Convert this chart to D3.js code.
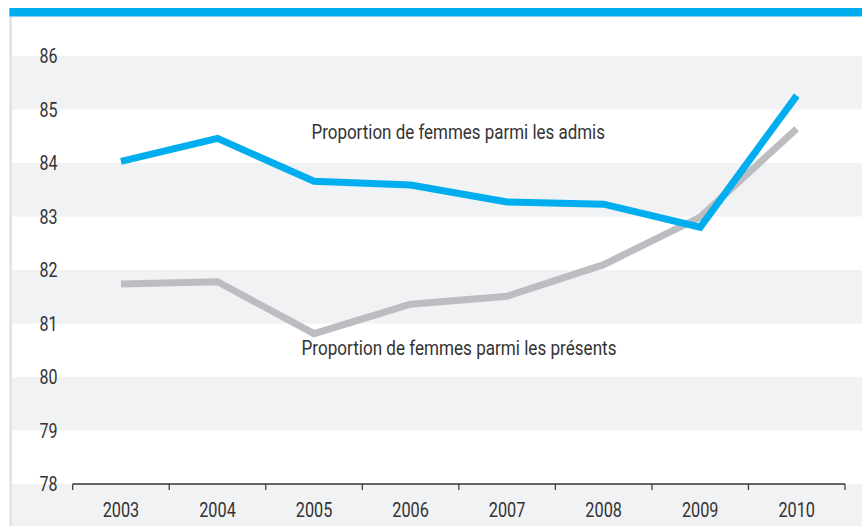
<!DOCTYPE html>
<html>
<head>
<meta charset="utf-8">
<script src="https://cdn.jsdelivr.net/npm/d3@7"></script>
<style>
  body { margin: 0; background: #fff; }
  svg { display: block; }
  text { font-family: Roboto, "DejaVu Sans Condensed", sans-serif; font-weight: 400; fill: #333; }
</style>
</head>
<body>
<svg id="chart" width="862" height="526"></svg>
<script>
// data
const years = ["2003", "2004", "2005", "2006", "2007", "2008", "2009", "2010"];
const admis = [84.03, 84.46, 83.66, 83.59, 83.27, 83.23, 82.80, 85.26];
const presents = [81.74, 81.78, 80.81, 81.36, 81.51, 82.10, 82.99, 84.64];
const yTicks = [78, 79, 80, 81, 82, 83, 84, 85, 86];

const width = 862, height = 526;
const svg = d3.select("#chart");

const x = d3.scaleBand()
  .domain(years)
  .range([72.7, 845]);

const y = d3.scaleLinear()
  .domain([78, 86])
  .range([484, 56]);

// stripes (alternate bands, grey on 85-86, 83-84, ...)
const bands = d3.range(78, 86).map((v) => ({ lo: v, hi: v + 1 }));
svg.selectAll(".band")
  .data(bands.filter((d) => (86 - d.hi) % 2 === 0))
  .enter().append("rect")
  .attr("class", "band")
  .attr("x", 12)
  .attr("width", width - 12)
  .attr("y", (d) => y(d.hi))
  .attr("height", (d) => y(d.lo) - y(d.hi))
  .attr("fill", "#f1f2f4");

// band below the axis
svg.append("rect")
  .attr("x", 12)
  .attr("width", width - 12)
  .attr("y", y(78))
  .attr("height", height - y(78))
  .attr("fill", "#f1f2f4");

// left border and top blue bar
svg.append("rect")
  .attr("x", 9.3).attr("y", 16)
  .attr("width", 2.7).attr("height", height - 16)
  .attr("fill", "#e3e4e6");

svg.append("rect")
  .attr("x", 9.3).attr("y", 8)
  .attr("width", width - 9.3).attr("height", 8.5)
  .attr("fill", "#00aeef");

// y tick labels
svg.selectAll(".ylab")
  .data(yTicks)
  .enter().append("text")
  .attr("class", "ylab")
  .attr("x", 57.5)
  .attr("y", (d) => y(d))
  .attr("dy", "0.36em")
  .attr("text-anchor", "end")
  .attr("font-size", "20.5px")
  .attr("textLength", 18)
  .attr("lengthAdjust", "spacingAndGlyphs")
  .text((d) => d);

// x axis
const xAxis = svg.append("g")
  .attr("transform", "translate(0," + y(78) + ")");

xAxis.append("line")
  .attr("x1", x.range()[0]).attr("x2", x.range()[1])
  .attr("y1", 0).attr("y2", 0)
  .attr("stroke", "#333").attr("stroke-width", 1.3);

const tickPos = years.map((d) => x(d)).concat([x.range()[1]]);
xAxis.selectAll(".tick")
  .data(tickPos)
  .enter().append("line")
  .attr("x1", (d) => d).attr("x2", (d) => d)
  .attr("y1", 0).attr("y2", 6)
  .attr("stroke", "#333").attr("stroke-width", 1.2);

xAxis.selectAll(".xlab")
  .data(years)
  .enter().append("text")
  .attr("class", "xlab")
  .attr("x", (d) => x(d) + x.bandwidth() / 2)
  .attr("y", 33)
  .attr("text-anchor", "middle")
  .attr("font-size", "20.5px")
  .attr("textLength", 36.6)
  .attr("lengthAdjust", "spacingAndGlyphs")
  .text((d) => d);

// lines
const line = d3.line()
  .x((d, i) => x(years[i]) + x.bandwidth() / 2)
  .y((d) => y(d));

svg.append("path")
  .datum(presents)
  .attr("d", line)
  .attr("fill", "none")
  .attr("stroke", "#bcbdc0")
  .attr("stroke-width", 7);

svg.append("path")
  .datum(admis)
  .attr("d", line)
  .attr("fill", "none")
  .attr("stroke", "#00aeef")
  .attr("stroke-width", 7);

// series labels
svg.append("text")
  .attr("x", 311.5)
  .attr("y", 139)
  .attr("font-size", "19.5px")
  .attr("textLength", 293.5)
  .attr("lengthAdjust", "spacingAndGlyphs")
  .text("Proportion de femmes parmi les admis");

svg.append("text")
  .attr("x", 301.5)
  .attr("y", 355)
  .attr("font-size", "19.5px")
  .attr("textLength", 315)
  .attr("lengthAdjust", "spacingAndGlyphs")
  .text("Proportion de femmes parmi les présents");
</script>
</body>
</html>
